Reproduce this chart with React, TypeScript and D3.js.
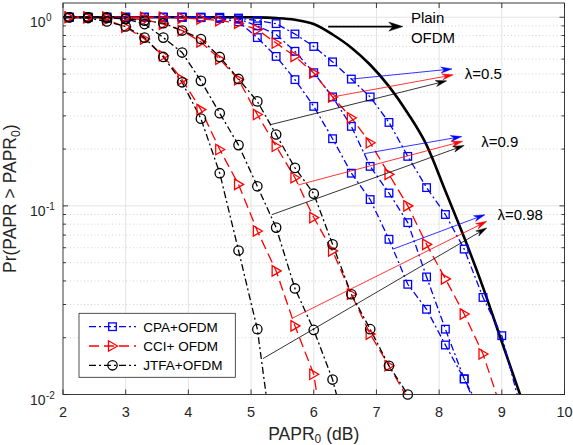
import React from 'react';
import * as d3 from 'd3';

// PAPR0 grid (dB) where every simulated curve has a marker
const papr = [2.1, 2.4, 2.7, 3.0, 3.3, 3.6, 3.9, 4.2, 4.5, 4.8, 5.1, 5.4, 5.7, 6.0, 6.3, 6.6, 6.9, 7.2, 7.5, 7.8, 8.1, 8.4, 8.7, 9.0, 9.3];

// CPA+OFDM, lambda = 0.5 / 0.9 / 0.98
const cpa05 = [1, 1, 1, 1, 1, 1, 1, 1, 1, 0.99, 0.96, 0.925, 0.815, 0.70, 0.58, 0.47, 0.378, 0.277, 0.183, 0.125, 0.090, 0.059, 0.0327, 0.0205, 0.0085];
const cpa09 = [1, 1, 1, 1, 1, 1, 1, 1, 0.995, 0.98, 0.90, 0.81, 0.66, 0.508, 0.378, 0.264, 0.162, 0.117, 0.0815, 0.042, 0.0222, 0.0121, 0.0072];
const cpa098 = [1, 1, 1, 1, 1, 1, 1, 0.995, 0.985, 0.946, 0.78, 0.62, 0.467, 0.337, 0.227, 0.149, 0.108, 0.0665, 0.0384, 0.0283, 0.0183, 0.0121, 0.0078];

// CCI+ OFDM
const cci05 = [1, 1, 1, 1, 1, 1, 0.99, 0.98, 0.96, 0.93, 0.86, 0.73, 0.62, 0.507, 0.378, 0.293, 0.216, 0.147, 0.10, 0.0625, 0.041, 0.0267, 0.0164, 0.0082];
const cci09 = [1, 1, 1, 0.99, 0.97, 0.92, 0.85, 0.74, 0.60, 0.467, 0.305, 0.207, 0.141, 0.0867, 0.0577, 0.034, 0.0209, 0.0142, 0.0095, 0.006];
const cci098 = [1, 0.995, 0.97, 0.887, 0.767, 0.625, 0.467, 0.324, 0.199, 0.13, 0.0736, 0.0452, 0.0231, 0.0128, 0.003];

// JTFA+OFDM
const jtfa05 = [1, 1, 0.99, 0.98, 0.96, 0.93, 0.85, 0.767, 0.616, 0.471, 0.358, 0.239, 0.159, 0.116, 0.0625, 0.034, 0.0222, 0.0142, 0.01, 0.006];
const jtfa09 = [1, 1, 1, 0.98, 0.92, 0.78, 0.65, 0.46, 0.31, 0.21, 0.127, 0.0767, 0.0365, 0.022, 0.012, 0.005];
const jtfa098 = [1, 0.99, 0.95, 0.894, 0.78, 0.616, 0.452, 0.29, 0.149, 0.058, 0.0222, 0.004];

// Plain OFDM (no markers)
const plainX = [2.0, 4.8, 5.1, 5.4, 5.7, 6.0, 6.3, 6.6, 6.9, 7.2, 7.5, 7.8, 8.1, 8.4, 8.7, 9.0, 9.3, 9.6];
const plainP = [1, 1, 0.998, 0.99, 0.97, 0.92, 0.81, 0.69, 0.56, 0.43, 0.31, 0.21, 0.12, 0.068, 0.037, 0.019, 0.0098, 0.005];

const xTicks = [2, 3, 4, 5, 6, 7, 8, 9, 10];
const yDecades = [0.01, 0.1, 1];
const yExponents = ['-2', '-1', '0'];
const yMinor = [0.02, 0.03, 0.04, 0.05, 0.06, 0.07, 0.08, 0.09, 0.2, 0.3, 0.4, 0.5, 0.6, 0.7, 0.8, 0.9];

const methodNames = ['CPA+OFDM', 'CCI+ OFDM', 'JTFA+OFDM'];

// annotation arrows, in data units [papr, prob]; order blue, red, black
const lambdaLabels = ['\u03bb=0.5', '\u03bb=0.9', '\u03bb=0.98'];
const lambdaLabelAt = [[8.41, 0.50], [8.67, 0.22], [8.93, 0.0898]];
const arrowStart = [
    [[6.6, 0.47], [6.3, 0.378], [5.30, 0.269]],
    [[6.80, 0.189], [5.75, 0.129], [5.33, 0.0898]],
    [[7.27, 0.0591], [5.67, 0.0255], [5.19, 0.0155]]
];
const arrowEnd = [
    [[8.205, 0.532], [8.226, 0.495], [8.12, 0.46]],
    [[8.36, 0.233], [8.376, 0.22], [8.40, 0.209]],
    [[8.73, 0.0898], [8.76, 0.0828], [8.76, 0.0764]]
];
const plainArrow = [[6.23, 0.892], [7.42, 0.892]];
const plainLabel = [['Plain', 7.55, 0.988], ['OFDM', 7.55, 0.774]];

const font = '"Liberation Sans", Arial, Helvetica, sans-serif';
const colors = ['#0000ff', '#ff0000', '#000000'];
const dashes = ['7,3,2,3', '10,5', '7,3,2,3'];
const markers = ['square', 'tri', 'circle'];

const width = 573;
const height = 445;
const plot = {left: 63, right: 564.5, top: 3, bottom: 394.5};

const xScale = d3.scaleLinear().domain([2, 10]).range([plot.left, plot.right]);
const yScale = d3.scaleLog().domain([0.01, 1.19]).range([plot.bottom, plot.top]);

const line = d3.line<number[]>()
    .x((d) => xScale(d[0]))
    .y((d) => yScale(d[1]));

const plainLine = d3.line<number[]>()
    .x((d) => xScale(d[0]))
    .y((d) => yScale(d[1]))
    .curve(d3.curveMonotoneX);

function Marker({kind, cx, cy, color}: {kind: string, cx: number, cy: number, color: string}) {
    if (kind === 'square')
        return <rect x={cx - 3.8} y={cy - 3.8} width={7.6} height={7.6} fill="none" stroke={color} strokeWidth={1.3} />;
    if (kind === 'circle')
        return <circle cx={cx} cy={cy} r={4.7} fill="none" stroke={color} strokeWidth={1.3} />;
    return <path d={`M${cx + 5},${cy}L${cx - 4},${cy - 5.2}L${cx - 4},${cy + 5.2}Z`} fill="none" stroke={color} strokeWidth={1.3} />;
}

function arrowHead(x1: number, y1: number, x2: number, y2: number, len: number, hw: number) {
    const a = Math.atan2(y2 - y1, x2 - x1);
    const c = Math.cos(a), s = Math.sin(a);
    const bx = x2 - len * c, by = y2 - len * s;
    const nx = x2 - len * 0.7 * c, ny = y2 - len * 0.7 * s;
    return `M${x2},${y2}L${bx - hw * s},${by + hw * c}L${nx},${ny}L${bx + hw * s},${by - hw * c}Z`;
}

function Arrow({from, to, color, w, len, hw}: {from: number[], to: number[], color: string, w: number, len: number, hw: number}) {
    const x1 = xScale(from[0]), y1 = yScale(from[1]);
    const x2 = xScale(to[0]), y2 = yScale(to[1]);
    const a = Math.atan2(y2 - y1, x2 - x1);
    const ex = x2 - len * 0.7 * Math.cos(a), ey = y2 - len * 0.7 * Math.sin(a);
    return (
        <g>
            <line x1={x1} y1={y1} x2={ex} y2={ey} stroke={color} strokeWidth={w} />
            <path d={arrowHead(x1, y1, x2, y2, len, hw)} fill={color} stroke={color} strokeWidth={0.5} />
        </g>
    );
}

export default function App() {
    const groups = [
        [cpa05, cpa09, cpa098],
        [cci05, cci09, cci098],
        [jtfa05, jtfa09, jtfa098]
    ];

    const legendY = [326.7, 346, 365.3];

    return (
        <svg width={width} height={height} style={{position: 'absolute', left: 0, top: 0, background: '#fff'}}
            fontFamily={font}>
            <defs>
                <clipPath id="plotClip">
                    <rect x={plot.left} y={plot.top} width={plot.right - plot.left} height={plot.bottom - plot.top} />
                </clipPath>
            </defs>
            <rect x={0} y={0} width={width} height={height} fill="#fff" />

            {/* grid */}
            {xTicks.slice(1, -1).map((t) => (
                <line key={'gx' + t} x1={xScale(t)} x2={xScale(t)} y1={plot.top} y2={plot.bottom} stroke="#e3e3e3" strokeWidth={1} />
            ))}
            {yMinor.map((t) => (
                <line key={'gm' + t} x1={plot.left} x2={plot.right} y1={yScale(t)} y2={yScale(t)} stroke="#c8c8c8" strokeWidth={0.8} strokeDasharray="1,2.5" />
            ))}
            {yDecades.slice(1).map((t) => (
                <line key={'gy' + t} x1={plot.left} x2={plot.right} y1={yScale(t)} y2={yScale(t)} stroke="#e3e3e3" strokeWidth={1} />
            ))}

            <g clipPath="url(#plotClip)">
                <path d={plainLine(plainX.map((x, i) => [x, plainP[i]])) || ''} fill="none" stroke="#000" strokeWidth={2.6} />
                {groups.map((curves, m) => curves.map((vals, k) => (
                    <path key={`c${m}-${k}`} d={line(vals.map((p, i) => [papr[i], p])) || ''} fill="none"
                        stroke={colors[m]} strokeWidth={1.3} strokeDasharray={dashes[m]} />
                )))}
            </g>
            {groups.map((curves, m) => curves.map((vals, k) => vals.map((p, i) => (
                p >= 0.0099 ? <Marker key={`m${m}-${k}-${i}`} kind={markers[m]} cx={xScale(papr[i])} cy={yScale(p)} color={colors[m]} /> : null
            ))))}

            {/* annotations */}
            {arrowStart.map((row, g) => row.map((s, c) => (
                <Arrow key={`a${g}-${c}`} from={s} to={arrowEnd[g][c]} color={colors[c]} w={0.8} len={11} hw={3} />
            )))}
            {lambdaLabels.map((lab, g) => (
                <text key={'l' + g} x={xScale(lambdaLabelAt[g][0])} y={yScale(lambdaLabelAt[g][1])} dy="0.35em" fontSize={15} fill="#000">{lab}</text>
            ))}
            <Arrow from={plainArrow[0]} to={plainArrow[1]} color="#000" w={1.6} len={14} hw={4.5} />
            {plainLabel.map((d) => (
                <text key={'p' + d[0]} x={xScale(d[1] as number)} y={yScale(d[2] as number)} dy="0.35em" fontSize={15} fill="#000">{d[0]}</text>
            ))}

            {/* axes box and ticks */}
            <rect x={plot.left} y={plot.top} width={plot.right - plot.left} height={plot.bottom - plot.top} fill="none" stroke="#262626" strokeWidth={0.9} />
            {xTicks.map((t) => (
                <g key={'tx' + t}>
                    <line x1={xScale(t)} x2={xScale(t)} y1={plot.bottom} y2={plot.bottom - 5} stroke="#262626" strokeWidth={0.9} />
                    <line x1={xScale(t)} x2={xScale(t)} y1={plot.top} y2={plot.top + 5} stroke="#262626" strokeWidth={0.9} />
                    <text x={xScale(t)} y={416.5} textAnchor="middle" fontSize={14.5} fill="#262626">{t}</text>
                </g>
            ))}
            {yMinor.map((t) => (
                <g key={'tm' + t}>
                    <line x1={plot.left} x2={plot.left + 3} y1={yScale(t)} y2={yScale(t)} stroke="#262626" strokeWidth={0.9} />
                    <line x1={plot.right} x2={plot.right - 3} y1={yScale(t)} y2={yScale(t)} stroke="#262626" strokeWidth={0.9} />
                </g>
            ))}
            {yDecades.map((t, i) => (
                <g key={'ty' + t}>
                    <line x1={plot.left} x2={plot.left + 5} y1={yScale(t)} y2={yScale(t)} stroke="#262626" strokeWidth={0.9} />
                    <line x1={plot.right} x2={plot.right - 5} y1={yScale(t)} y2={yScale(t)} stroke="#262626" strokeWidth={0.9} />
                    <text x={45.5} y={yScale(t) + 10} textAnchor="end" fontSize={14} fill="#262626">10</text>
                    <text x={46} y={yScale(t) + 4} textAnchor="start" fontSize={10} fill="#262626">{yExponents[i]}</text>
                </g>
            ))}

            {/* axis labels */}
            <text x={(plot.left + plot.right) / 2} y={439.5} textAnchor="middle" fontSize={17.5} fill="#262626">
                PAPR<tspan fontSize={12} dy={3}>0</tspan><tspan dy={-3}> (dB)</tspan>
            </text>
            <text transform={`translate(16, ${(plot.top + plot.bottom) / 2}) rotate(-90)`} textAnchor="middle" fontSize={17.5} fill="#262626">
                Pr(PAPR &gt; PAPR<tspan fontSize={12} dy={4}>0</tspan><tspan dy={-4}>)</tspan>
            </text>

            {/* legend */}
            <rect x={79} y={313.3} width={156.3} height={64} fill="#fff" stroke="#262626" strokeWidth={0.8} />
            {methodNames.map((name, m) => (
                <g key={'lg' + m}>
                    <line x1={89} x2={136} y1={legendY[m]} y2={legendY[m]} stroke={colors[m]} strokeWidth={1.3} strokeDasharray={dashes[m]} />
                    <Marker kind={markers[m]} cx={112.5} cy={legendY[m]} color={colors[m]} />
                    <text x={143.3} y={legendY[m]} dy="0.36em" fontSize={13.5} fill="#000">{name}</text>
                </g>
            ))}
        </svg>
    );
}
